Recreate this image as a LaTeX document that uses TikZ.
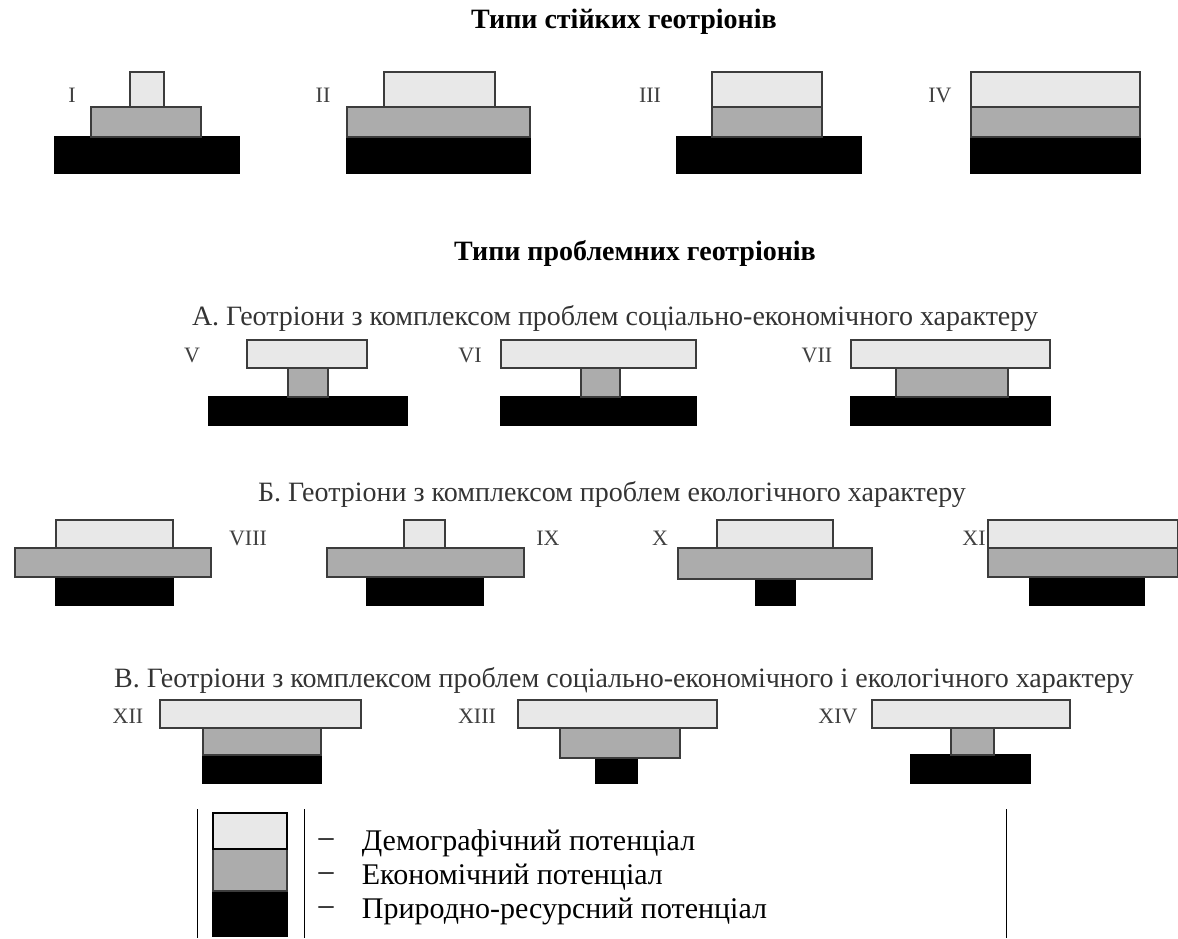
\documentclass[tikz,border=0pt]{standalone}
\usepackage{fontspec}
\setmainfont{Liberation Serif}
\usetikzlibrary{positioning}
\definecolor{demolight}{RGB}{232,232,232}
\definecolor{econgray}{RGB}{172,172,172}
\definecolor{edgegray}{RGB}{60,60,60}

\begin{document}
\begin{tikzpicture}[x=1pt, y=-1pt,
    demo/.style={draw=edgegray, fill=demolight, line width=1.2pt},
    econ/.style={draw=edgegray, fill=econgray, line width=1.2pt},
    nature/.style={draw=black, fill=black, line width=1.2pt},
    heading/.style={font=\fontsize{28}{32}\selectfont\bfseries},
    subheading/.style={font=\fontsize{28}{32}\selectfont, text=black!80},
    numeral/.style={font=\fontsize{22}{26}\selectfont, text=black!75},
    legendtext/.style={font=\fontsize{30}{34}\selectfont, inner sep=0pt}
]

% Frame
\useasboundingbox (0,0) rectangle (1178,938);

% Stable types
\node[heading] (stabletitle) at (624,22) {Типи стійких геотріонів};

\node[numeral] (typeI) at (72,95) {I};
\draw[nature] (55,137) rectangle (239,173);
\draw[econ] (91,107) rectangle (201,137);
\draw[demo] (130,72) rectangle (164,107);

\node[numeral] (typeII) at (323,95) {II};
\draw[nature] (347,137) rectangle (530,173);
\draw[econ] (347,107) rectangle (530,137);
\draw[demo] (384,72) rectangle (495,107);

\node[numeral] (typeIII) at (650,95) {III};
\draw[nature] (677,137) rectangle (861,173);
\draw[econ] (712,107) rectangle (822,137);
\draw[demo] (712,72) rectangle (822,107);

\node[numeral] (typeIV) at (940,95) {IV};
\draw[nature] (971,137) rectangle (1140,173);
\draw[econ] (971,107) rectangle (1140,137);
\draw[demo] (971,72) rectangle (1140,107);

% Problem types
\node[heading] (problemtitle) at (635,253) {Типи проблемних геотріонів};

% A: socio-economic
\node[subheading] (groupA) at (615,318) {А. Геотріони з комплексом проблем соціально-економічного характеру};

\node[numeral] (typeV) at (192,355) {V};
\draw[nature] (209,397) rectangle (407,425);
\draw[econ] (288,368) rectangle (328,397);
\draw[demo] (247,340) rectangle (367,368);

\node[numeral] (typeVI) at (470,355) {VI};
\draw[nature] (501,397) rectangle (696,425);
\draw[econ] (581,368) rectangle (620,397);
\draw[demo] (501,340) rectangle (696,368);

\node[numeral] (typeVII) at (817,355) {VII};
\draw[nature] (851,397) rectangle (1050,425);
\draw[econ] (896,368) rectangle (1008,397);
\draw[demo] (851,340) rectangle (1050,368);

% B: ecological
\node[subheading] (groupB) at (612,494) {Б. Геотріони з комплексом проблем екологічного характеру};

\node[numeral] (typeVIII) at (248,538) {VIII};
\draw[nature] (56,577) rectangle (173,605);
\draw[econ] (15,548) rectangle (211,577);
\draw[demo] (56,520) rectangle (173,548);

\node[numeral] (typeIX) at (548,538) {IX};
\draw[nature] (367,577) rectangle (483,605);
\draw[econ] (327,548) rectangle (524,577);
\draw[demo] (404,520) rectangle (445,548);

\node[numeral] (typeX) at (660,538) {X};
\draw[nature] (756,579) rectangle (795,605);
\draw[econ] (678,548) rectangle (872,579);
\draw[demo] (717,520) rectangle (833,548);

\node[numeral] (typeXI) at (974,538) {XI};
\draw[nature] (1030,577) rectangle (1144,605);
\draw[econ] (988,548) rectangle (1178,577);
\draw[demo] (988,520) rectangle (1178,548);

% C: socio-economic and ecological
\node[subheading] (groupC) at (624,680) {В. Геотріони з комплексом проблем соціально-економічного і екологічного характеру};

\node[numeral] (typeXII) at (128,716) {XII};
\draw[nature] (203,755) rectangle (321,783);
\draw[econ] (203,728) rectangle (321,755);
\draw[demo] (160,700) rectangle (361,728);

\node[numeral] (typeXIII) at (477,716) {XIII};
\draw[nature] (596,758) rectangle (637,783);
\draw[econ] (560,728) rectangle (680,758);
\draw[demo] (518,700) rectangle (717,728);

\node[numeral] (typeXIV) at (838,716) {XIV};
\draw[nature] (911,755) rectangle (1030,783);
\draw[econ] (951,728) rectangle (994,755);
\draw[demo] (872,700) rectangle (1070,728);

% Legend
\draw[line width=1pt] (197,809) -- (197,938);
\draw[line width=1pt] (304,809) -- (304,938);
\draw[line width=1pt] (1006,809) -- (1006,938);
\draw[nature] (213,891) rectangle (287,936);
\draw[econ] (213,849) rectangle (287,891);
\draw[demo, draw=black] (213,813) rectangle (287,849);

\node[legendtext] (dashdemo) at (326,843) {--};
\node[legendtext, right=28pt of dashdemo] (legdemo) {Демографічний потенціал};
\node[legendtext] (dashecon) at (326,877) {--};
\node[legendtext, right=28pt of dashecon] (legecon) {Економічний потенціал};
\node[legendtext] (dashnature) at (326,911) {--};
\node[legendtext, right=28pt of dashnature] (legnature) {Природно-ресурсний потенціал};

\end{tikzpicture}
\end{document}
